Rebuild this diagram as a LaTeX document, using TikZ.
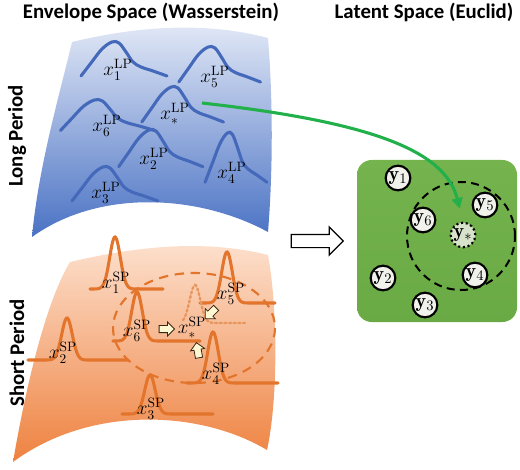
\documentclass[tikz,border=0pt]{standalone}
\usepackage{fontspec}
\newfontfamily\titlefont{Carlito}
\usetikzlibrary{arrows.meta,shapes.geometric,shapes.arrows}
\definecolor{lpblue}{HTML}{4569BA}
\definecolor{bluetop}{HTML}{E4EAF7}
\definecolor{bluebot}{HTML}{4A72C4}
\definecolor{ortop}{HTML}{FDE2D0}
\definecolor{orbot}{HTML}{EE8240}
\definecolor{spor}{HTML}{E2742C}
\definecolor{spdot}{HTML}{E8965E}
\definecolor{latgreen}{HTML}{6AAA45}
\definecolor{latgreentop}{HTML}{74B34E}
\definecolor{arrgreen}{HTML}{22B04B}
\definecolor{cream}{HTML}{FDF8D2}
\definecolor{ywhite}{HTML}{F2F2EC}
\newcommand\lpcurve[4]{\draw[lpline, shift={(#1,#2)}, xscale=#3, yscale=#4] plot[smooth, tension=0.6] coordinates {(-36,34) (-26,21) (-15,7) (-5,0) (2,1) (9,10) (16,20) (24,25) (36,29) (50,34)};}
\newcommand\spcurve[6][]{\draw[spline,#1] plot[domain=-#5:#6, samples=100] ({#2+\x},{#3+#4*(1-exp(-min((\x/7.5)^2,30)))});}
\begin{document}
\begin{tikzpicture}[x=0.75pt,y=-0.75pt,
  lpline/.style={draw=lpblue, line width=2.3pt, line cap=round},
  spline/.style={draw=spor, line width=2.3pt, line cap=round},
  lbl/.style={inner sep=0pt, font=\fontsize{14.5}{14.5}\selectfont},
  ttl/.style={inner sep=0pt, font=\titlefont\bfseries\fontsize{15.6}{15.6}\selectfont},
  ynode/.style={circle, draw=black, line width=1.6pt, fill=ywhite, minimum size=18.5pt, inner sep=0pt, font=\fontsize{15}{15}\selectfont},
  smallarrow/.style={single arrow, draw=black!70!brown, line width=0.6pt, fill=cream, inner sep=2.4pt, single arrow head extend=2.6pt, minimum height=11.5pt},
]
\useasboundingbox (0,0) rectangle (520,470);
% titles
\node[ttl] (t1) at (151,12) {Envelope Space (Wasserstein)};
\node[ttl] (t2) at (424,12) {Latent Space (Euclid)};
\node[ttl, rotate=90] (lp) at (17,136) {Long Period};
\node[ttl, rotate=90] (sp) at (17,353) {Short Period};
% blue sheet
\shade[top color=bluetop, bottom color=bluebot]
 (72,42) .. controls (130,28) and (200,20) .. (268,38)
 .. controls (273,100) and (273,170) .. (268,232)
 .. controls (200,195) and (100,188) .. (32,237)
 .. controls (38,170) and (58,100) .. (72,42) -- cycle;
% orange sheet
\shade[top color=ortop, bottom color=orbot]
 (70,262) .. controls (130,248) and (200,238) .. (268,255)
 .. controls (278,310) and (278,400) .. (267,450)
 .. controls (200,410) and (90,405) .. (13,462)
 .. controls (27,380) and (47,300) .. (70,262) -- cycle;
% LP curves
\lpcurve{117}{42}{1}{1}
\lpcurve{213}{47}{0.95}{1.03}
\lpcurve{176}{87}{0.95}{1.03}
\lpcurve{100}{100}{1.1}{0.9}
\lpcurve{154}{130}{0.98}{1.08}
\lpcurve{108}{167}{1}{1}
\lpcurve{231}{133}{0.72}{1.45}
\node[lbl] (lp1) at (118,70) {$x_1^{\mathrm{LP}}$};
\node[lbl] (lp5) at (215,77) {$x_5^{\mathrm{LP}}$};
\node[lbl] (lps) at (175,114) {$x_*^{\mathrm{LP}}$};
\node[lbl] (lp6) at (107,126) {$x_6^{\mathrm{LP}}$};
\node[lbl] (lp2) at (154,159) {$x_2^{\mathrm{LP}}$};
\node[lbl] (lp3) at (106,193) {$x_3^{\mathrm{LP}}$};
\node[lbl] (lp4) at (232,173) {$x_4^{\mathrm{LP}}$};
% SP curves
\draw[draw=spor, line width=1.6pt, dash pattern=on 7pt off 5pt] (194,328) ellipse [x radius=81, y radius=55];
\spcurve{115}{237}{52}{25}{48}
\spcurve{137}{292}{49}{24}{63}
\spcurve{67}{318}{42}{39}{61}
\spcurve{150}{375}{39}{28}{63}
\spcurve{227}{252}{51}{27}{48}
\spcurve{213}{332}{51}{26}{65}
\spcurve[draw=spdot, line width=1.8pt, dash pattern=on 1.5pt off 2pt]{195}{285}{38}{12}{50}
\node[lbl] (sp1) at (116,283) {$x_1^{\mathrm{SP}}$};
\node[lbl] (sp6) at (137,331) {$x_6^{\mathrm{SP}}$};
\node[lbl] (sp2) at (63,353) {$x_2^{\mathrm{SP}}$};
\node[lbl] (sp3) at (151,409) {$x_3^{\mathrm{SP}}$};
\node[lbl] (sp5) at (231,294) {$x_5^{\mathrm{SP}}$};
\node[lbl] (sp4) at (216,374) {$x_4^{\mathrm{SP}}$};
\node[lbl] (sps) at (192,328) {$x_*^{\mathrm{SP}}$};
\node[smallarrow] (a1) at (165,329) {};
\node[smallarrow, rotate=225] (a2) at (212,312) {};
\node[smallarrow, rotate=100] (a3) at (198,352) {};
% big hollow arrow
\node[single arrow, draw=black, line width=0.9pt, fill=white, inner sep=4.5pt, single arrow head extend=5.6pt, minimum height=39pt] (big) at (314,241) {};
% latent box
\node[top color=latgreentop, bottom color=latgreen, rounded corners=11pt, minimum width=120pt, minimum height=121.5pt, inner sep=0pt] (latent) at (437,241) {};
\node[circle, draw=black, line width=1.5pt, dash pattern=on 6pt off 4pt, minimum size=81pt, inner sep=0pt] (nbhd) at (461,236) {};
\node[ynode] (y1) at (398,178) {$\mathbf{y}_1$};
\node[ynode] (y5) at (485,205) {$\mathbf{y}_5$};
\node[ynode] (y6) at (423,220) {$\mathbf{y}_6$};
\node[ynode, dotted, fill=ywhite!80!latgreen] (ys) at (463,235) {$\mathbf{y}_*$};
\node[ynode] (y2) at (383,278) {$\mathbf{y}_2$};
\node[ynode] (y4) at (475,275) {$\mathbf{y}_4$};
\node[ynode] (y3) at (425,305) {$\mathbf{y}_3$};
% green arrow
\coordinate (gs) at (202,103);
\draw[draw=arrgreen, line width=2.3pt, -{Triangle[length=8pt,width=8pt]}, shorten >=10pt] (gs) .. controls (370,122) and (445,150) .. (ys.north);
\end{tikzpicture}
\end{document}
